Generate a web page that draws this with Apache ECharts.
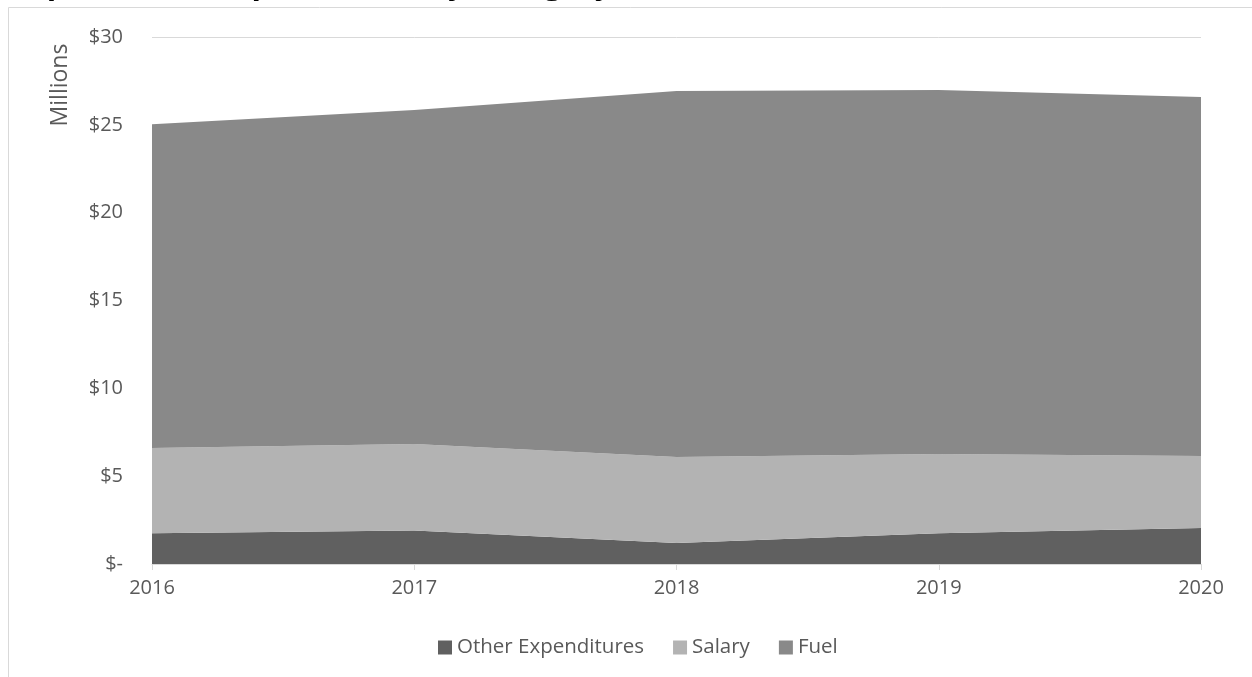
<!DOCTYPE html>
<html>
<head>
<meta charset="utf-8">
<script src="https://cdn.jsdelivr.net/npm/echarts@6/dist/echarts.min.js"></script>
<style>
  html, body { margin: 0; padding: 0; background: #fff; }
  #chart { width: 1252px; height: 677px; }
</style>
</head>
<body>
<div id="chart"></div>
<script>
// years on the x axis
const years = ['2016', '2017', '2018', '2019', '2020'];
// values in millions of dollars, stacked bottom to top
const otherExp = [1.75, 1.9, 1.2, 1.75, 2.05];
const salary = [4.85, 4.93, 4.89, 4.51, 4.1];
const fuel = [18.44, 19.01, 20.83, 20.72, 20.43];
// y axis ticks
const yTicks = [0, 5, 10, 15, 20, 25, 30];

const labelFont = '"Open Sans", "Noto Sans", sans-serif';
const textGray = '#595959';

const chart = echarts.init(document.getElementById('chart'));

const areaSeries = (name, data, color) => ({
  name,
  type: 'line',
  stack: 'total',
  data,
  symbol: 'none',
  lineStyle: { width: 0 },
  itemStyle: { color },
  areaStyle: { color, opacity: 1 },
  emphasis: { disabled: true },
});

chart.setOption({
  animation: false,
  graphic: [{
    // title sits mostly above the window, only descenders show
    type: 'text',
    x: 22,
    y: -15,
    style: {
      text: 'Operational Expenditures by Category',
      font: 'bold 31px "Open Sans", sans-serif',
      fill: '#000',
      textVerticalAlign: 'middle',
    },
    silent: true,
  }, {
    type: 'rect',
    shape: { x: 8.5, y: 7.5, width: 1400, height: 800 },
    style: { fill: '#fff', stroke: '#d9d9d9', lineWidth: 1 },
    silent: true,
    z: -10,
  }, {
    type: 'text',
    x: 60,
    y: 85,
    rotation: Math.PI / 2,
    style: {
      text: 'Millions',
      font: '23px "Open Sans", sans-serif',
      fill: textGray,
      textAlign: 'center',
      textVerticalAlign: 'middle',
    },
    silent: true,
  }],
  grid: {
    left: 152,
    right: 51,
    top: 37,
    bottom: 113,
    containLabel: false,
  },
  legend: {
    bottom: 14,
    left: 433,
    itemWidth: 14,
    itemHeight: 14,
    itemGap: 29,
    icon: 'rect',
    textStyle: { fontFamily: labelFont, fontSize: 20.5, color: textGray },
    data: ['Other Expenditures', 'Salary', 'Fuel'],
  },
  xAxis: {
    type: 'category',
    data: years,
    boundaryGap: false,
    axisLine: { lineStyle: { color: '#d9d9d9', width: 1 } },
    axisTick: { show: true, length: 6, lineStyle: { color: '#d9d9d9' } },
    axisLabel: { fontFamily: labelFont, fontSize: 20, color: textGray, margin: 14 },
    splitLine: { show: false },
  },
  yAxis: {
    type: 'value',
    min: yTicks[0],
    max: yTicks[yTicks.length - 1],
    interval: 5,
    axisLine: { show: false },
    axisTick: { show: false },
    axisLabel: {
      fontFamily: labelFont, fontSize: 20, color: textGray, margin: 29,
      formatter: v => (v === 0 ? '$-' : '$' + v),
    },
    splitLine: { lineStyle: { color: '#d9d9d9', width: 1 } },
  },
  series: [
    areaSeries('Other Expenditures', otherExp, '#606060'),
    areaSeries('Salary', salary, '#b3b3b3'),
    areaSeries('Fuel', fuel, '#898989'),
  ],
});
</script>
</body>
</html>
